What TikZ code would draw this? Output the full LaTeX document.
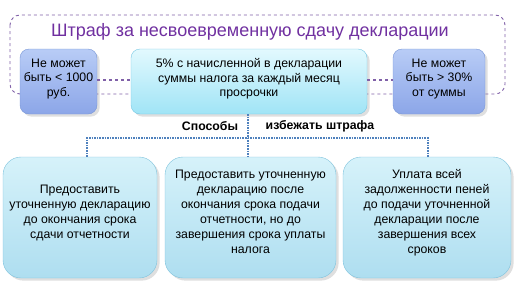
\documentclass[tikz,border=0pt]{standalone}
\usepackage{fontspec}
\setmainfont{Liberation Sans}
\usetikzlibrary{shadows}
\definecolor{titlepurple}{RGB}{112,48,160}
\definecolor{framepurple}{RGB}{128,96,168}
\definecolor{lavtop}{RGB}{184,204,246}
\definecolor{lavbot}{RGB}{140,166,232}
\definecolor{lavline}{RGB}{120,150,214}
\definecolor{cyantop}{RGB}{226,249,254}
\definecolor{cyanbot}{RGB}{160,228,246}
\definecolor{cyanline}{RGB}{120,200,228}
\definecolor{skytop}{RGB}{214,242,250}
\definecolor{skybot}{RGB}{174,222,240}
\definecolor{skyline}{RGB}{126,194,220}
\definecolor{linkblue}{RGB}{79,129,189}
\tikzset{
  limitbox/.style={draw=lavline, top color=lavtop, bottom color=lavbot,
    rounded corners=9pt, align=center, inner sep=1pt,
    font=\fontsize{12.3}{14.5}\selectfont, drop shadow={opacity=0.25}},
  ratebox/.style={draw=cyanline, top color=cyantop, bottom color=cyanbot,
    rounded corners=9pt, align=center, inner sep=1pt,
    font=\fontsize{12.3}{14.5}\selectfont, drop shadow={opacity=0.25}},
  waybox/.style={draw=skyline, top color=skytop, bottom color=skybot,
    rounded corners=18pt, align=center, inner sep=1pt,
    font=\fontsize{12.3}{15}\selectfont, drop shadow={opacity=0.25}},
  link/.style={linkblue, densely dotted, line width=1.6pt},
}
\begin{document}
\begin{tikzpicture}[x=1pt,y=-1pt]
  \useasboundingbox (0,0) rectangle (516,290);
  % Frame round the penalty
  \draw[framepurple, dashed, line width=0.9pt, rounded corners=10pt]
    (10,15) rectangle (505,94);
  \node[titlepurple, font=\fontsize{18}{20}\selectfont] (title) at (250,32)
    {Штраф за несвоевременную сдачу декларации};
  % Limits and rate
  \node[limitbox, minimum width=77pt, minimum height=65pt] (low) at (58.5,81.5)
    {Не может\\быть < 1000\\руб.\\[-6.5pt]\mbox{}};
  \node[ratebox, minimum width=236pt, minimum height=65pt] (rate) at (249,81.5)
    {5\% с начисленной в декларации\\суммы налога за каждый месяц\\просрочки\\[-6.5pt]\mbox{}};
  \node[limitbox, minimum width=92pt, minimum height=65pt] (high) at (439,81.5)
    {Не может\\быть > 30\%\\от суммы\\[-6.5pt]\mbox{}};
  \draw[framepurple, dashed, line width=1.8pt] (low.east |- 0,80) -- (rate.west |- 0,80);
  \draw[framepurple, dashed, line width=1.8pt] (rate.east |- 0,80) -- (high.west |- 0,80);
  % Ways to avoid the penalty
  \node[font=\bfseries\fontsize{12.3}{14}\selectfont] (ways) at (210,126) {Способы};
  \node[font=\bfseries\fontsize{12.3}{14}\selectfont] (avoid) at (320,126) {избежать штрафа};
  \node[waybox, minimum width=154pt, minimum height=121pt] (early) at (80,217.5)
    {Предоставить\\уточненную декларацию\\до окончания срока\\сдачи отчетности\\[-3pt]\mbox{}};
  \node[waybox, minimum width=171pt, minimum height=121pt] (late) at (250.5,217.5)
    {Предоставить уточненную\\декларацию после\\окончания срока подачи\\отчетности, но до\\завершения срока уплаты\\налога\\[-3pt]\mbox{}};
  \node[waybox, minimum width=168pt, minimum height=121pt] (debt) at (427,217.5)
    {Уплата всей\\задолженности пеней\\до подачи уточненной\\декларации после\\завершения всех\\сроков\\[-3pt]\mbox{}};
  % Dotted links
  \coordinate (jl) at (87,138);
  \coordinate (jm) at (248,138);
  \coordinate (jr) at (428,138);
  \draw[link] (rate.south -| jm) -- (jm) -- (jm |- late.north);
  \draw[link] (jl |- early.north) -- (jl) -- (jr) -- (jr |- debt.north);
\end{tikzpicture}
\end{document}
